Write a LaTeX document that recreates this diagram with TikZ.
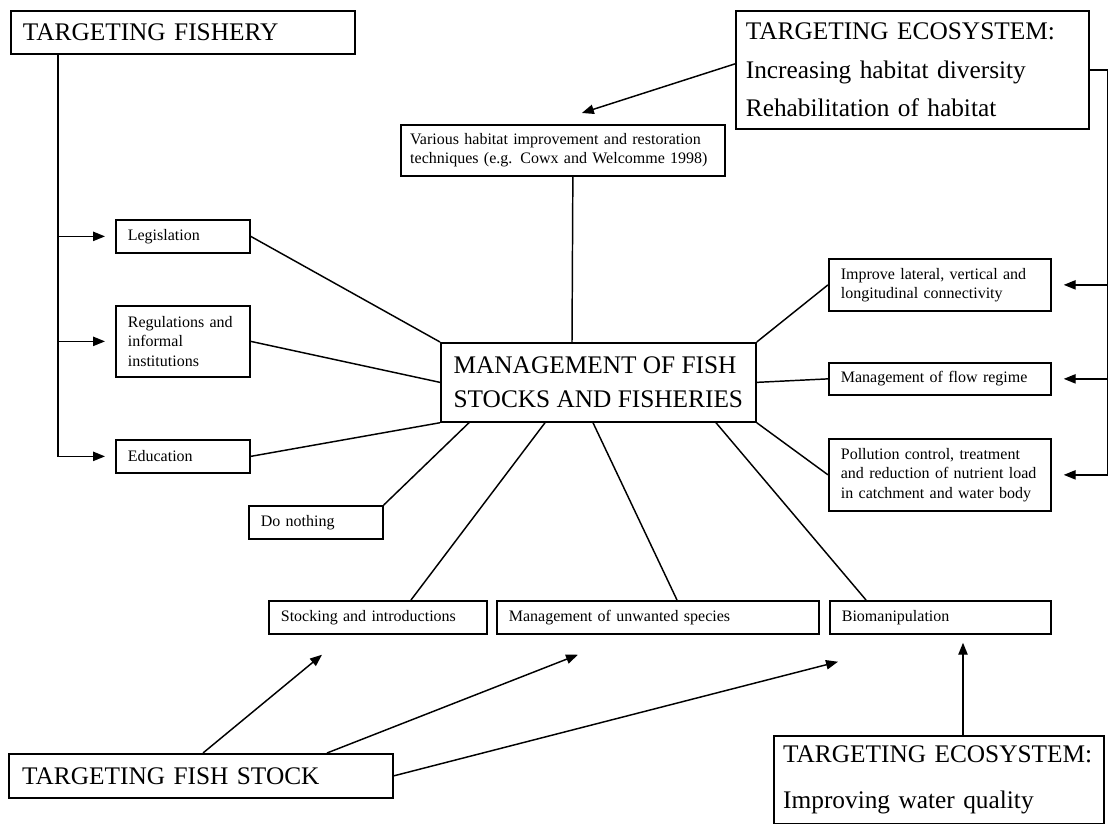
\documentclass[tikz,border=0pt]{standalone}
\usepackage{fontspec}
\setmainfont{Liberation Serif}
\usetikzlibrary{arrows.meta, calc}
\tikzstyle{box}=[draw,line width=1.3pt,anchor=north west,align=left,inner ysep=1pt]
\tikzstyle{sml}=[font=\fontsize{12}{14.5}\selectfont,inner xsep=9pt]
\tikzstyle{big}=[font=\fontsize{19}{25}\selectfont,inner xsep=9pt]
\tikzstyle{link}=[line width=1.1pt]
\tikzstyle{arr}=[line width=1.1pt,-{Triangle[length=9pt,width=7pt]}]

\begin{document}
\begin{tikzpicture}[x=0.75pt,y=-0.75pt]
\useasboundingbox (0,0) rectangle (1111,824);
% targeting boxes
\node[box,big,text width=240pt,minimum height=32.25pt] (fishery) at (10,10) {TARGETING FISHERY};
\node[box,big,font=\fontsize{19}{29}\selectfont,inner xsep=7.5pt,text width=249.75pt,minimum height=88.5pt] (ecoTop) at (735,10) {TARGETING ECOSYSTEM:\\Increasing habitat diversity\\Rehabilitation of habitat};
\node[box,big,inner xsep=10pt,text width=268pt,minimum height=33pt] (fishstock) at (8,753) {TARGETING FISH STOCK};
\node[box,big,font=\fontsize{19}{34}\selectfont,inner xsep=7pt,text width=233.5pt,minimum height=66pt] (ecoBot) at (773,735) {TARGETING ECOSYSTEM:\\Improving water quality};
% centre
\node[box,big,minimum width=236.25pt,minimum height=59.25pt] (centre) at (440,342) {MANAGEMENT OF FISH\\STOCKS AND FISHERIES};
% measures
\node[box,sml,inner xsep=7pt,text width=229pt,minimum height=38.25pt] (habitat) at (400,124) {Various habitat improvement and restoration\\techniques (e.g. Cowx and Welcomme 1998)};
\foreach \n/\y/\h/\t in {legis/219/24.75/Legislation, regs/305/53.25/{Regulations and\\informal\\institutions}, edu/439/24.75/Education}
  \node[box,sml,text width=82.5pt,minimum height=\h pt] (\n) at (115,\y) {\t};
\node[box,sml,text width=82.5pt,minimum height=24.75pt] (nothing) at (248,505) {Do nothing};
\foreach \n/\y/\h/\t in {improve/258/39/{Improve lateral, vertical and\\longitudinal connectivity}, flow/362/24/Management of flow regime, pollution/438/54/{Pollution control, treatment\\and reduction of nutrient load\\in catchment and water body}}
  \node[box,sml,text width=148.5pt,minimum height=\h pt] (\n) at (828,\y) {\t};
\node[box,sml,text width=145.5pt,minimum height=24.75pt] (stocking) at (268,600) {Stocking and introductions};
\node[box,sml,text width=223.5pt,minimum height=24.75pt] (unwanted) at (496,600) {Management of unwanted species};
\node[box,sml,text width=147.75pt,minimum height=24.75pt] (biomanip) at (829,600) {Biomanipulation};
% spokes to the centre
\draw[link] (legis.east) -- (centre.north west);
\draw[link] (regs.east) -- (centre.west);
\draw[link] (edu.east) -- (centre.south west);
\draw[link] (nothing.north east) -- ($(centre.south west)+(29,0)$);
\draw[link] ($(stocking.north west)+(143,0)$) -- ($(centre.south west)+(105,0)$);
\draw[link] ($(unwanted.north west)+(181,0)$) -- ($(centre.south west)+(153,0)$);
\draw[link] ($(biomanip.north west)+(37,0)$) -- ($(centre.south west)+(276,0)$);
\draw[link] (improve.west) -- (centre.north east);
\draw[link] (flow.west) -- (centre.east);
\draw[link] (pollution.west) -- (centre.south east);
\draw[link] ($(habitat.south)+(10,0)$) -- ($(centre.north west)+(132,0)$);
% fishery rail
\draw[arr] ($(fishery.south west)+(48,0)$) coordinate (frail) |- ($(edu.west)+(-10,0)$);
\foreach \n in {legis,regs} \draw[arr] (frail |- \n.west) -- ($(\n.west)+(-10,0)$);
% ecosystem rail
\draw[link] (ecoTop.east) -- ++(18,0) coordinate (erail);
\draw[arr] (erail) |- ($(pollution.east)+(12,0)$);
\foreach \n in {improve,flow} \draw[arr] (erail |- \n.east) -- ($(\n.east)+(12,0)$);
\draw[arr] ($(ecoTop.west)+(0,-6)$) -- ($(habitat.north)+(19,-11)$);
% fish stock and water quality
\draw[arr] ($(fishstock.north west)+(195,0)$) -- ($(stocking.south west)+(54,20)$);
\draw[arr] ($(fishstock.north west)+(319,0)$) -- ($(unwanted.south west)+(82,20)$);
\draw[arr] (fishstock.east) -- ($(biomanip.south west)+(9,27)$);
\draw[arr] ($(ecoBot.north west)+(190,0)$) -- ($(biomanip.south west)+(134,8)$);
\end{tikzpicture}
\end{document}
